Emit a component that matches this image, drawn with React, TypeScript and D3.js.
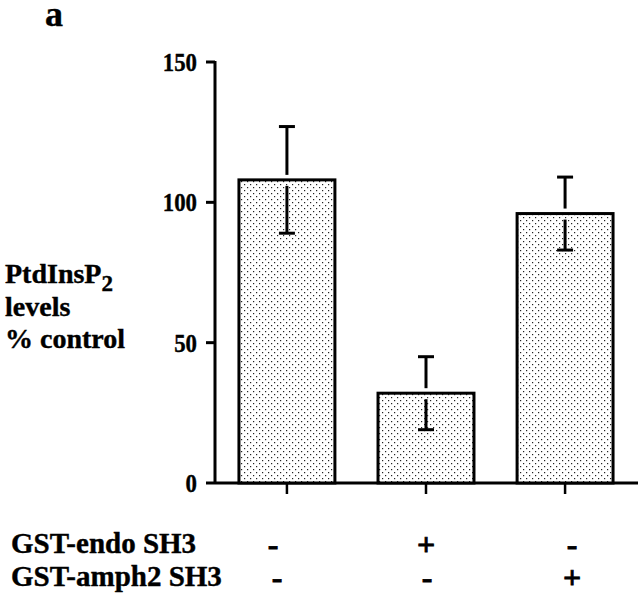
import React from "react";
import * as d3 from "d3";

const categories = ["c1", "c2", "c3"];
const values = [108, 32, 96];
const errors = [19, 13, 13];
const yTicks = [0, 50, 100, 150];
const rowLabels = ["GST-endo SH3", "GST-amph2 SH3"];
const rowSigns = [["-", "+", "-"], ["-", "-", "+"]];

const W = 640, H = 597;
const font = "'Liberation Serif', 'Times New Roman', serif";

export default function App() {
  const y = d3.scaleLinear().domain([0, 150]).range([483, 62]);
  const x = d3.scaleBand().domain(categories).range([216, 636]).paddingInner(0.31).paddingOuter(0.165);
  const axisX = 215;
  const signX = [[273, 426, 572], [277, 427, 572]];
  const rowY = [553, 586];
  const heavy = { stroke: "#000", strokeWidth: 0.4 };
  return (
    <svg width={W} height={H} style={{ position: "absolute", left: 0, top: 0, background: "#fff" }} fontFamily={font} fontWeight="bold">
      <defs>
        <pattern id="dots" width="6" height="6" patternUnits="userSpaceOnUse">
          <rect width="6" height="6" fill="#fff" />
          <rect x="1" y="1" width="1.2" height="1.2" fill="#222" />
          <rect x="4" y="4" width="1.2" height="1.2" fill="#222" />
        </pattern>
      </defs>
      <text x={45} y={26} fontSize={36} {...heavy}>a</text>
      {/* y axis */}
      <line x1={axisX} x2={axisX} y1={y(150) - 1} y2={y(0)} stroke="#000" strokeWidth={3} />
      {yTicks.map((t) => (
        <g key={t}>
          <line x1={axisX - 9} x2={axisX} y1={y(t)} y2={y(t)} stroke="#000" strokeWidth={3} />
          <text x={197} y={y(t) + 9} fontSize={25} textAnchor="end" textLength={String(t).length * 11.4} lengthAdjust="spacingAndGlyphs" {...heavy}>{t}</text>
        </g>
      ))}
      {/* x axis */}
      <line x1={axisX} x2={638} y1={y(0)} y2={y(0)} stroke="#000" strokeWidth={3} />
      {categories.map((c) => (
        <line key={c} x1={x(c)! + x.bandwidth() / 2} x2={x(c)! + x.bandwidth() / 2} y1={y(0)} y2={y(0) + 11} stroke="#000" strokeWidth={2.5} />
      ))}
      {/* bars */}
      {categories.map((c, i) => {
        const cx = x(c)! + x.bandwidth() / 2;
        const top = y(values[i]);
        const hi = y(values[i] + errors[i]);
        const lo = y(values[i] - errors[i]);
        return (
          <g key={c}>
            <rect x={x(c)} y={top} width={x.bandwidth()} height={y(0) - top} fill="url(#dots)" stroke="#000" strokeWidth={3} />
            <line x1={cx} x2={cx} y1={hi} y2={top - 5} stroke="#000" strokeWidth={3} />
            <line x1={cx} x2={cx} y1={top + 6} y2={lo} stroke="#000" strokeWidth={3} />
            <line x1={cx - 8} x2={cx + 8} y1={hi} y2={hi} stroke="#000" strokeWidth={3} />
            <line x1={cx - 8} x2={cx + 8} y1={lo} y2={lo} stroke="#000" strokeWidth={3} />
          </g>
        );
      })}
      {/* y label */}
      <text x={5} y={283} fontSize={28} {...heavy}>PtdInsP<tspan dy={8} fontSize={23}>2</tspan></text>
      <text x={5} y={316} fontSize={28} {...heavy}>levels</text>
      <text x={5} y={348} fontSize={28} {...heavy}>% control</text>
      {/* bottom rows */}
      {rowLabels.map((l, r) => (
        <g key={l}>
          <text x={11} y={rowY[r]} fontSize={29} {...heavy}>{l}</text>
          {rowSigns[r].map((s, i) => (
            <text key={i} x={signX[r][i]} y={rowY[r] + 2} fontSize={32} textAnchor="middle" {...heavy} strokeWidth={0.8}>{s}</text>
          ))}
        </g>
      ))}
    </svg>
  );
}
